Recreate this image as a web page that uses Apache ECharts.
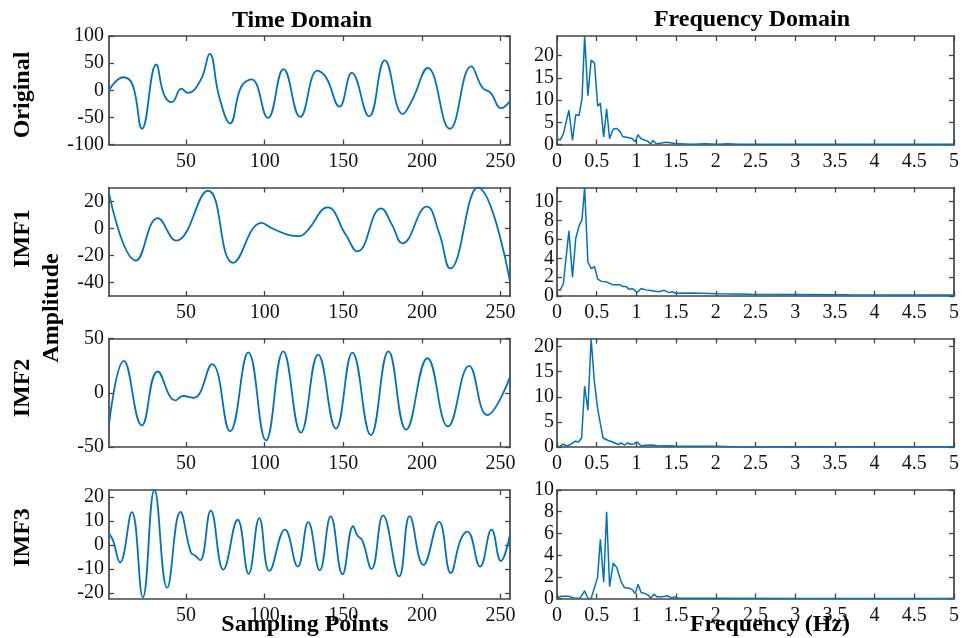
<!DOCTYPE html>
<html><head><meta charset="utf-8">
<script src="https://cdn.jsdelivr.net/npm/echarts@6/dist/echarts.min.js"></script>
<style>html,body{margin:0;padding:0;background:#fff}#c{width:962px;height:638px}</style>
</head><body><div id="c"></div><script>
// ---------- Time domain (sample index, amplitude) ----------
const origTimeIdx = [1,10,16,22,31,36,41,47,51,59.5,65,71,78,85,91.7,102,112,122.6,133.6,139,147.6,155.4,166.4,176.4,187.8,194,203.7,217.7,231.4,238.4,243.7,250.4,256];
const origTimeVal = [0,24,10,-71,47.5,-8,-22,3,-5,20,67,-11,-61,6,20,-51,39,-49,36,24,-30,32,-48,55,-44,-17,41,-71,44,5,-5,-33,-20];

const imf1TimeIdx = [1,18.2,32,43.7,64,80,98,105,115,122,127,140,151.6,159,174,181,187.6,203,211,218,235.6,256];
const imf1TimeVal = [26,-23.7,7.7,-9,28,-25.4,4.2,0,-4.7,-5.7,-1.7,15.6,-4.7,-17,15,2.7,-11,16.3,-3.5,-29.6,30.4,-39];

const imf2TimeIdx = [1,10.4,21.9,32,43.2,48,55,66.5,78,89.6,100.8,111.8,123,134,145.3,155.8,167.5,178.7,190,203.5,216.6,230,241.5,256];
const imf2TimeVal = [-29,29.4,-30,19.6,-7,-3,-4.6,26.3,-35.5,37.3,-44,38.2,-36.7,35.2,-33,37,-39,38.2,-34,31.8,-31,24.8,-20.5,14.4];

const imf3TimeIdx = [1,3.5,8,15.5,22.5,29.9,38,46.4,53,56,59,65.7,73.7,82.8,89.8,96.6,103,112.9,121,127.7,135,142,149.5,156.3,159,162,168,175.3,185.5,192.2,200.9,210.9,218.3,224.6,228.9,237,244.3,250.2,256];
const imf3TimeVal = [4.8,2,-7.3,13.7,-21.8,22.9,-17.8,13.8,-3,-4.5,-6.4,14.3,-10.3,10.5,-12,11.2,-10.8,6.4,-9,9.5,-10.6,11.9,-12.2,7.8,3.9,2,-10,12.3,-13.1,12,-8.3,9.6,-11.7,2.2,5.6,-9,6.4,-6.7,4.3];

// ---------- Frequency domain (Hz, magnitude) ----------
const origFreqHz  = [0,0.04,0.08,0.15,0.195,0.236,0.277,0.315,0.348,0.389,0.43,0.472,0.513,0.546,0.588,0.625,0.662,0.708,0.753,0.79,0.828,0.87,0.91,0.95,0.985,1.02,1.06,1.1,1.14,1.18,1.21,1.25,1.3,1.37,1.43,1.49,1.53,1.7,1.86,2.03,2.15,2.3,2.6,3,3.5,4,4.5,5];
const origFreqAmp = [1.3,1,2.4,7.7,0.9,6.7,6.5,10.3,24.4,11,19,18.3,8.6,9.3,1.7,8,1.3,3.5,3.6,3,1.8,1.65,1.5,1.3,0.6,2.2,1.3,1,0.75,0.15,0.9,0.15,0.3,0.5,0.4,0.15,0.15,0.05,0.15,0.05,0.15,0.05,0.05,0.04,0.03,0.03,0.03,0.03];

const imf1FreqHz  = [0,0.04,0.08,0.15,0.195,0.236,0.277,0.315,0.348,0.389,0.43,0.472,0.513,0.56,0.62,0.7,0.79,0.83,0.87,0.91,0.95,1.01,1.06,1.12,1.2,1.28,1.35,1.41,1.45,1.49,1.7,2.03,2.44,3.02,3.68,5];
const imf1FreqAmp = [0.7,0.6,1.3,6.9,2,6.1,7.4,8.1,11.5,3.6,2.9,3.1,1.8,1.55,1.5,1.2,1.2,1,1,0.7,0.8,0.36,0.8,0.65,0.55,0.45,0.6,0.36,0.45,0.3,0.32,0.25,0.18,0.15,0.12,0.1];

const imf2FreqHz  = [0,0.04,0.08,0.12,0.165,0.23,0.27,0.31,0.348,0.389,0.43,0.47,0.513,0.58,0.64,0.7,0.77,0.81,0.85,0.89,0.93,0.97,1.01,1.06,1.12,1.2,1.28,1.41,1.53,2.03,2.2,3,4,5];
const imf2FreqAmp = [0,0.15,0.55,0.2,0.45,1.15,1,1.8,12.1,7.3,21.6,13.1,7.5,1.8,1.35,1,0.5,0.8,0.35,0.8,0.55,0.6,1,0.2,0.35,0.4,0.2,0.27,0.13,0.13,0.03,0.02,0.02,0.02];

const imf3FreqHz  = [0,0.05,0.145,0.21,0.29,0.348,0.39,0.43,0.51,0.546,0.588,0.625,0.662,0.708,0.753,0.81,0.85,0.91,0.95,0.985,1.02,1.06,1.11,1.15,1.18,1.22,1.26,1.32,1.39,1.44,1.49,1.53,1.7,2,3,4,5];
const imf3FreqAmp = [0.1,0.2,0.2,0.05,0.03,0.7,0,0,1.9,5.45,1.5,8,1.1,3.25,2.85,1.5,1,0.95,0.8,0.45,1.3,0.55,0.45,0.3,0.03,0.4,0.15,0.15,0.25,0.06,0.15,0.03,0.03,0.02,0.01,0.01,0.01];

// ---------- Axes / labels ----------
const rowLabels = ['Original','IMF1','IMF2','IMF3'];
const timeTicks = [50,100,150,200,250];
const timeYRanges = [[-100,100],[-50,30.4],[-50,50],[-22.3,22.9]];
const timeYTicks = [[-100,-50,0,50,100],[-40,-20,0,20],[-50,0,50],[-20,-10,0,10,20]];
const freqYRanges = [[0,24.4],[0,11.5],[0,21.6],[0,10]];
const freqYTicks = [[0,5,10,15,20],[0,2,4,6,8,10],[0,5,10,15,20],[0,2,4,6,8,10]];
const freqTicks = [0,0.5,1,1.5,2,2.5,3,3.5,4,4.5,5];

const timeSeries = [[origTimeIdx,origTimeVal],[imf1TimeIdx,imf1TimeVal],[imf2TimeIdx,imf2TimeVal],[imf3TimeIdx,imf3TimeVal]];
const freqSeries = [[origFreqHz,origFreqAmp],[imf1FreqHz,imf1FreqAmp],[imf2FreqHz,imf2FreqAmp],[imf3FreqHz,imf3FreqAmp]];

const FONT = 'Liberation Serif';
const AX = '#444';
const LINE = '#0072BD';
const tops = [36, 187.5, 338.5, 490];
const H = 108.5;

const grid = [], xAxis = [], yAxis = [], series = [];
const zip = (a,b) => a.map((v,i)=>[v,b[i]]);

function axisBase(){
  return {
    axisLine:{show:true, onZero:false, lineStyle:{color:AX, width:1.7}},
    splitLine:{show:false},
    axisTick:{show:true, inside:true, length:5, lineStyle:{color:AX, width:1.3}},
    axisLabel:{fontFamily:FONT, fontSize:20, color:'#111', showMinLabel:true, showMaxLabel:true, hideOverlap:false}
  };
}
function xPair(gi, min, max, ticks){
  [['bottom',true],['top',false]].forEach(([pos,lab])=>{
    const a = axisBase();
    Object.assign(a,{type:'value', gridIndex:gi, position:pos, min:min, max:max});
    a.axisTick.customValues = ticks;
    a.axisLabel.customValues = ticks;
    a.axisLabel.show = lab; a.axisLabel.margin = 7;
    xAxis.push(a);
  });
  return xAxis.length-2;
}
// y axes: frame axes (left+right) plus two label-only axes so that no label is dropped
function yGroup(gi, min, max, ticks, margin){
  const main = yAxis.length;
  ['left','right'].forEach(pos=>{
    const a = axisBase();
    Object.assign(a,{type:'value', gridIndex:gi, position:pos, min:min, max:max});
    a.axisTick.customValues = ticks;
    a.axisLabel.customValues = ticks;
    a.axisLabel.show = false;
    yAxis.push(a);
  });
  [0,1].forEach(par=>{
    const vals = ticks.filter((v,i)=>i%2===par);
    const a = axisBase();
    Object.assign(a,{type:'value', gridIndex:gi, position:'left', min:min, max:max});
    a.axisLine = {show:false, onZero:false};
    a.axisTick = {show:false, customValues: vals};
    a.axisLabel.customValues = vals;
    a.axisLabel.margin = margin;
    yAxis.push(a);
  });
  return main;
}

for (let r=0; r<4; r++){
  const gl = grid.length;
  grid.push({left:109, width:401, top:tops[r], height:H});
  grid.push({left:557, width:402, top:tops[r], height:H});
  const gr = gl+1;
  const txb = xPair(gl, 1, 256, timeTicks);
  const tyl = yGroup(gl, timeYRanges[r][0], timeYRanges[r][1], timeYTicks[r], 5);
  const fxb = xPair(gr, 0, 5, freqTicks);
  const fyl = yGroup(gr, freqYRanges[r][0], freqYRanges[r][1], freqYTicks[r], 3);

  series.push({type:'line', xAxisIndex:txb, yAxisIndex:tyl, data:zip(timeSeries[r][0],timeSeries[r][1]),
    smooth:0.45, showSymbol:false, clip:true, lineStyle:{color:LINE, width:1.8}, itemStyle:{color:LINE}, animation:false});
  series.push({type:'line', xAxisIndex:fxb, yAxisIndex:fyl, data:zip(freqSeries[r][0],freqSeries[r][1]),
    smooth:false, showSymbol:false, clip:true, lineStyle:{color:LINE, width:1.5}, itemStyle:{color:LINE}, animation:false});
}

const bold = (txt,x,y,rot)=>({type:'text', x:x, y:y, rotation:rot||0,
  style:{text:txt, font:'bold 24px "'+FONT+'"', fill:'#000', align:'center', verticalAlign:'middle'}});
const rowCenters = [95, 238.5, 388, 537.5];
const graphic = [
  bold('Time Domain',302,21), bold('Frequency Domain',752,20),
  bold('Sampling Points',305,625), bold('Frequency (Hz)',770,625),
  bold('Amplitude',52,308,Math.PI/2)
];
rowLabels.forEach((t,i)=>graphic.push(bold(t,23,rowCenters[i],Math.PI/2)));

const chart = echarts.init(document.getElementById('c'));
chart.setOption({animation:false, backgroundColor:'#fff', grid, xAxis, yAxis, series, graphic});
</script></body></html>
